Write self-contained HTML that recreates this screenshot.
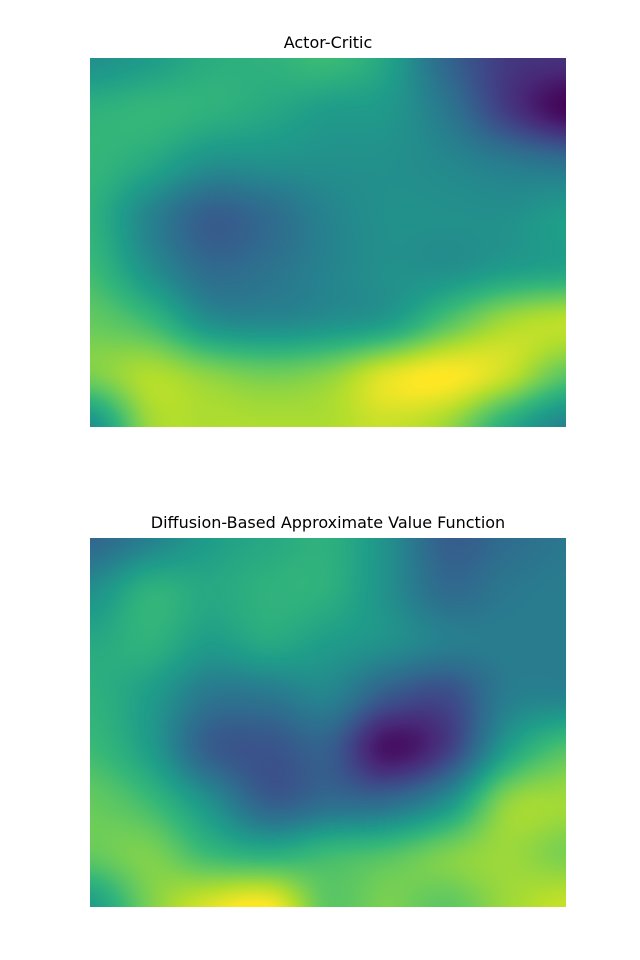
<!DOCTYPE html>
<html><head><meta charset="utf-8">
<style>
html,body{margin:0;padding:0;background:#fff;}
body{width:640px;height:960px;position:relative;font-family:"DejaVu Sans","Liberation Sans",sans-serif;}
.title{position:absolute;left:0;width:656px;text-align:center;font-size:16px;color:#000;}
canvas{position:absolute;left:90px;}
</style></head>
<body>
<div class="title" style="top:33px">Actor-Critic</div>
<canvas id="c1" width="476" height="369" style="top:58px"></canvas>
<div class="title" style="top:513px">Diffusion-Based Approximate Value Function</div>
<canvas id="c2" width="476" height="369" style="top:538px"></canvas>
<script>
const actorCriticValues = [
[0.5,0.55,0.62,0.64,0.68,0.58,0.33,0.17,0.14],
[0.64,0.66,0.64,0.6,0.55,0.53,0.4,0.18,0.02],
[0.66,0.6,0.5,0.5,0.5,0.5,0.47,0.42,0.38],
[0.64,0.45,0.3,0.35,0.45,0.5,0.5,0.5,0.55],
[0.68,0.5,0.35,0.38,0.45,0.5,0.5,0.55,0.58],
[0.76,0.68,0.5,0.47,0.5,0.55,0.72,0.86,0.9],
[0.8,0.88,0.82,0.78,0.82,0.95,1.0,0.92,0.75],
[0.5,0.85,0.88,0.88,0.88,0.92,0.85,0.62,0.45]
];
const diffusionValues = [
[0.33,0.44,0.55,0.6,0.63,0.5,0.3,0.35,0.4],
[0.5,0.64,0.6,0.64,0.63,0.5,0.35,0.4,0.42],
[0.6,0.64,0.55,0.6,0.55,0.5,0.43,0.42,0.42],
[0.64,0.55,0.4,0.4,0.45,0.28,0.23,0.42,0.45],
[0.68,0.55,0.3,0.26,0.3,0.05,0.18,0.55,0.72],
[0.76,0.68,0.5,0.3,0.35,0.35,0.5,0.82,0.86],
[0.76,0.8,0.68,0.63,0.68,0.72,0.8,0.85,0.8],
[0.55,0.8,0.95,1.0,0.75,0.8,0.75,0.85,0.92]
];
const viridis=[[68,1,84],[72,40,120],[62,74,137],[49,104,142],[38,130,142],[31,158,137],[53,183,121],[109,205,89],[180,222,44],[253,231,37]];
function cmap(v){v=Math.max(0,Math.min(1,v));const t=v*(viridis.length-1);const i=Math.min(viridis.length-2,Math.floor(t));const f=t-i;
return viridis[i].map((c,k)=>c+(viridis[i+1][k]-c)*f);}
function cr(p0,p1,p2,p3,t){return 0.5*((2*p1)+(-p0+p2)*t+(2*p0-5*p1+4*p2-p3)*t*t+(-p0+3*p1-3*p2+p3)*t*t*t);}
function sample(g,x,y){const R=g.length,C=g[0].length;
const gx=x*(C-1),gy=y*(R-1);const ix=Math.min(C-2,Math.floor(gx)),iy=Math.min(R-2,Math.floor(gy));
const fx=gx-ix,fy=gy-iy;const at=(r,c)=>g[Math.max(0,Math.min(R-1,r))][Math.max(0,Math.min(C-1,c))];
const rows=[];for(let j=-1;j<=2;j++){rows.push(cr(at(iy+j,ix-1),at(iy+j,ix),at(iy+j,ix+1),at(iy+j,ix+2),fx));}
return cr(rows[0],rows[1],rows[2],rows[3],fy);}
function draw(id,g){const cv=document.getElementById(id),ctx=cv.getContext('2d');const W=cv.width,H=cv.height;
const img=ctx.createImageData(W,H);
for(let y=0;y<H;y++)for(let x=0;x<W;x++){const c=cmap(sample(g,x/(W-1),y/(H-1)));const o=(y*W+x)*4;
img.data[o]=c[0];img.data[o+1]=c[1];img.data[o+2]=c[2];img.data[o+3]=255;}
ctx.putImageData(img,0,0);}
draw('c1',actorCriticValues);
draw('c2',diffusionValues);
</script>
</body></html>
